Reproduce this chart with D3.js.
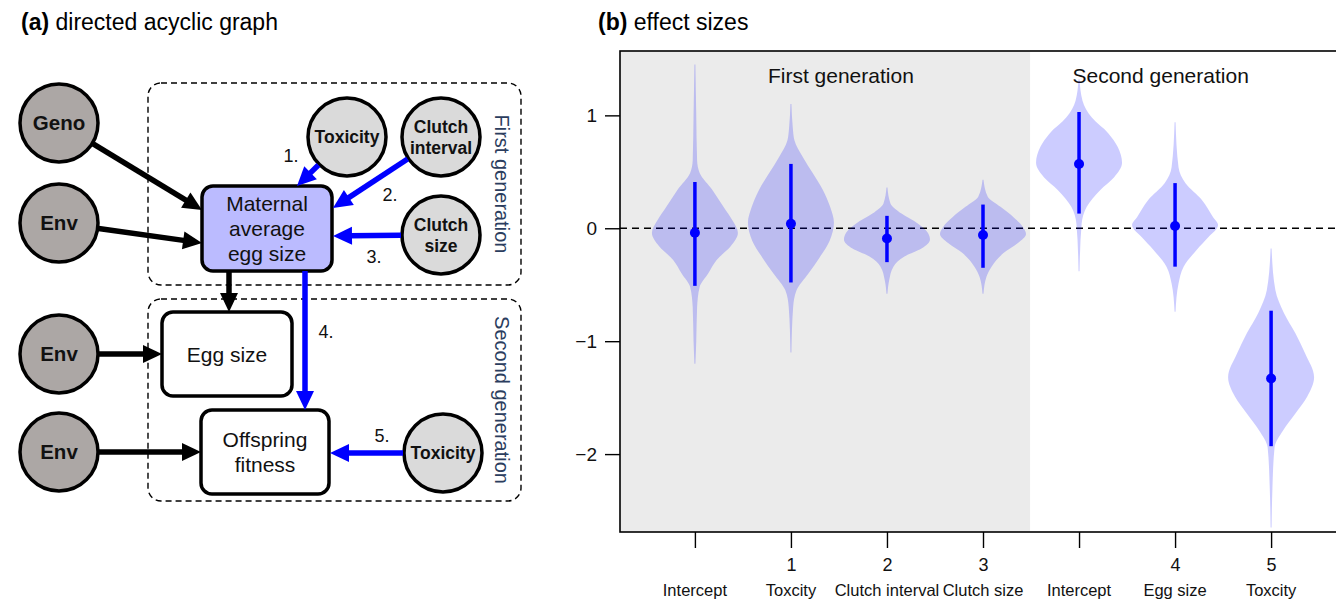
<!DOCTYPE html>
<html>
<head>
<meta charset="utf-8">
<script src="https://cdn.jsdelivr.net/npm/d3@7"></script>
<style>
  body { margin: 0; background: #fff; }
  svg { display: block; font-family: "Liberation Sans", Arial, Helvetica, sans-serif; }
</style>
</head>
<body>
<svg id="chart" width="1336" height="600"></svg>
<script>
// ---- panel (b) data: posterior effect sizes ----
const categories = ["Intercept", "Toxcity", "Clutch interval", "Clutch size", "Intercept", "Egg size", "Toxcity"];
const pathLabels = ["", "1", "2", "3", "", "4", "5"];
const means = [-0.04, 0.04, -0.09, -0.06, 0.57, 0.02, -1.33];
const lower = [-0.51, -0.48, -0.30, -0.35, 0.13, -0.34, -1.93];
const upper = [0.41, 0.57, 0.11, 0.21, 1.03, 0.40, -0.73];
const yTicks = [1, 0, -1, -2];
const generationLabels = ["First generation", "Second generation"];
const generationLabelPos = [1.52, 4.85];

// violin outlines: [effect value, relative density]
const violin1 = [[1.45, 0], [1.0, 0.02], [0.6, 0.04], [0.49, 0.1], [0.34, 0.4], [0.19, 0.66], [0.07, 0.87], [-0.04, 1], [-0.16, 0.83], [-0.28, 0.5], [-0.4, 0.3], [-0.52, 0.1], [-0.7, 0.04], [-1.0, 0.02], [-1.2, 0]];
const violin2 = [[1.1, 0], [0.9, 0.03], [0.78, 0.07], [0.63, 0.27], [0.49, 0.5], [0.34, 0.74], [0.19, 0.91], [0.05, 1], [-0.11, 0.9], [-0.26, 0.66], [-0.4, 0.4], [-0.55, 0.12], [-0.7, 0.04], [-1.1, 0]];
const violin3 = [[0.36, 0], [0.22, 0.07], [0.13, 0.33], [0.04, 0.72], [-0.04, 0.95], [-0.1, 1], [-0.18, 0.8], [-0.25, 0.4], [-0.34, 0.14], [-0.46, 0.04], [-0.58, 0]];
const violin4 = [[0.43, 0], [0.28, 0.1], [0.19, 0.4], [0.1, 0.7], [0.01, 0.93], [-0.05, 1], [-0.13, 0.81], [-0.22, 0.47], [-0.34, 0.19], [-0.43, 0.07], [-0.58, 0]];
const violin5 = [[1.32, 0], [1.13, 0.07], [0.98, 0.29], [0.84, 0.68], [0.72, 0.9], [0.58, 1], [0.45, 0.81], [0.34, 0.49], [0.19, 0.17], [0.04, 0.05], [-0.38, 0]];
const violin6 = [[0.94, 0], [0.54, 0.07], [0.4, 0.23], [0.25, 0.62], [0.1, 0.88], [0.03, 1], [-0.08, 0.77], [-0.19, 0.5], [-0.34, 0.19], [-0.49, 0.07], [-0.74, 0]];
const violin7 = [[-0.18, 0], [-0.55, 0.09], [-0.75, 0.29], [-0.93, 0.56], [-1.11, 0.79], [-1.32, 1], [-1.49, 0.84], [-1.64, 0.56], [-1.79, 0.27], [-1.94, 0.07], [-2.3, 0.02], [-2.65, 0]];
const violins = [violin1, violin2, violin3, violin4, violin5, violin6, violin7];

// ---- panel (a) data: the DAG ----
const dagNodes = [
  { id: "geno", shape: "circle", lines: ["Geno"], fill: "#aca7a5", big: true, cx: 59, cy: 123 },
  { id: "env1", shape: "circle", lines: ["Env"], fill: "#aca7a5", big: true, cx: 59, cy: 223 },
  { id: "env2", shape: "circle", lines: ["Env"], fill: "#aca7a5", big: true, cx: 59, cy: 354 },
  { id: "env3", shape: "circle", lines: ["Env"], fill: "#aca7a5", big: true, cx: 59, cy: 452 },
  { id: "tox1", shape: "circle", lines: ["Toxicity"], fill: "#dadada", cx: 347, cy: 137 },
  { id: "cint", shape: "circle", lines: ["Clutch", "interval"], fill: "#dadada", cx: 441, cy: 137 },
  { id: "csize", shape: "circle", lines: ["Clutch", "size"], fill: "#dadada", cx: 441, cy: 235 },
  { id: "tox2", shape: "circle", lines: ["Toxicity"], fill: "#dadada", cx: 443, cy: 453 },
  { id: "mat", shape: "box", lines: ["Maternal", "average", "egg size"], fill: "#bbbbff", x0: 202, x1: 332, y0: 186, y1: 271 },
  { id: "egg", shape: "box", lines: ["Egg size"], fill: "#ffffff", x0: 162, x1: 292, y0: 312, y1: 396 },
  { id: "off", shape: "box", lines: ["Offspring", "fitness"], fill: "#ffffff", x0: 201, x1: 329, y0: 410, y1: 494 }
];
// edges: source node, arrow tip, optional start point, colour, path label
const dagEdges = [
  { from: "geno", tip: [202, 210], color: "#000" },
  { from: "env1", tip: [202, 243], color: "#000" },
  { from: "env2", tip: [162, 354], color: "#000" },
  { from: "env3", tip: [201, 452], color: "#000" },
  { from: "mat", start: [229, 271], tip: [229, 312], color: "#000" },
  { from: "tox1", tip: [297, 186], color: "#0000ff", label: "1.", lx: 291, ly: 162 },
  { from: "cint", tip: [333, 208], color: "#0000ff", label: "2.", lx: 390, ly: 201 },
  { from: "csize", tip: [333, 236], color: "#0000ff", label: "3.", lx: 374, ly: 263 },
  { from: "mat", start: [305, 271], tip: [305, 410], color: "#0000ff", label: "4.", lx: 326, ly: 338 },
  { from: "tox2", tip: [330, 453], color: "#0000ff", label: "5.", lx: 382, ly: 442 }
];
const genBoxes = [
  { label: "First generation", x0: 148, x1: 521, y0: 83, y1: 285 },
  { label: "Second generation", x0: 148, x1: 521, y0: 299, y1: 501 }
];

const svg = d3.select("#chart");

// panel titles
function title(x, tag, rest) {
  const t = svg.append("text").attr("x", x).attr("y", 30).attr("font-size", 23).attr("fill", "#000");
  t.append("tspan").attr("font-weight", "bold").text(tag);
  t.append("tspan").text(" " + rest);
}
title(21, "(a)", "directed acyclic graph");
title(598, "(b)", "effect sizes");

// ================= panel (a) =================
const dag = svg.append("g");

dag.selectAll("rect.gen")
  .data(genBoxes)
  .enter().append("rect")
  .attr("class", "gen")
  .attr("x", d => d.x0).attr("y", d => d.y0)
  .attr("width", d => d.x1 - d.x0).attr("height", d => d.y1 - d.y0)
  .attr("rx", 13)
  .attr("fill", "none").attr("stroke", "#000").attr("stroke-width", 1.4)
  .attr("stroke-dasharray", "6,4");

dag.selectAll("text.gen")
  .data(genBoxes)
  .enter().append("text")
  .attr("class", "gen")
  .attr("transform", d => "translate(" + (d.x1 - 26) + "," + ((d.y0 + d.y1) / 2) + ") rotate(90)")
  .attr("text-anchor", "middle")
  .attr("font-size", 20)
  .attr("fill", "#2b3d5e")
  .text(d => d.label);

const R = 39;
const nodeById = {};
dagNodes.forEach(n => { nodeById[n.id] = n; });

const nodeG = dag.selectAll("g.node")
  .data(dagNodes)
  .enter().append("g")
  .attr("class", "node");

nodeG.filter(d => d.shape === "circle").append("circle")
  .attr("cx", d => d.cx).attr("cy", d => d.cy).attr("r", R)
  .attr("fill", d => d.fill).attr("stroke", "#000").attr("stroke-width", 3.5);

nodeG.filter(d => d.shape === "box").append("rect")
  .attr("x", d => d.x0).attr("y", d => d.y0)
  .attr("width", d => d.x1 - d.x0).attr("height", d => d.y1 - d.y0)
  .attr("rx", 11)
  .attr("fill", d => d.fill).attr("stroke", "#000").attr("stroke-width", 3.5);

nodeG.each(function (d) {
  const g = d3.select(this);
  const isBox = d.shape === "box";
  const fs = isBox ? 21 : (d.big ? 20.5 : 17.5);
  const lh = isBox ? 25 : 21;
  const cx = isBox ? (d.x0 + d.x1) / 2 : d.cx;
  const cy = isBox ? (d.y0 + d.y1) / 2 : d.cy;
  const n = d.lines.length;
  d.lines.forEach((s, i) => {
    g.append("text")
      .attr("x", cx)
      .attr("y", cy + (i - (n - 1) / 2) * lh + fs * 0.36)
      .attr("text-anchor", "middle")
      .attr("font-size", fs)
      .attr("font-weight", isBox ? "normal" : "bold")
      .attr("fill", "#111")
      .text(s);
  });
});

function drawArrow(sel, x1, y1, x2, y2, color) {
  const dx = x2 - x1, dy = y2 - y1, L = Math.hypot(dx, dy);
  const ux = dx / L, uy = dy / L;
  const hl = 19, hw = 9;
  const bx = x2 - ux * hl, by = y2 - uy * hl;
  sel.append("line")
    .attr("x1", x1).attr("y1", y1)
    .attr("x2", bx + ux * 2).attr("y2", by + uy * 2)
    .attr("stroke", color).attr("stroke-width", 5.5);
  sel.append("path")
    .attr("d", "M" + x2 + "," + y2 +
      "L" + (bx - uy * hw) + "," + (by + ux * hw) +
      "L" + (bx + uy * hw) + "," + (by - ux * hw) + "Z")
    .attr("fill", color);
}

const edgeG = dag.append("g");
dagEdges.forEach(e => {
  const src = nodeById[e.from];
  let start = e.start;
  if (!start) {
    const dx = e.tip[0] - src.cx, dy = e.tip[1] - src.cy, L = Math.hypot(dx, dy);
    start = [src.cx + dx / L * (R + 1), src.cy + dy / L * (R + 1)];
  }
  drawArrow(edgeG, start[0], start[1], e.tip[0], e.tip[1], e.color);
  if (e.label) {
    edgeG.append("text")
      .attr("x", e.lx).attr("y", e.ly)
      .attr("text-anchor", "middle")
      .attr("font-size", 18)
      .attr("fill", "#111")
      .text(e.label);
  }
});

// ================= panel (b) =================
const plot = { left: 620, right: 1346, top: 51, bottom: 532 };

const x = d3.scaleLinear().domain([-0.78, 6.78]).range([plot.left, plot.right]);
const y = d3.scaleLinear().domain([-2.69, 1.57]).range([plot.bottom, plot.top]);
const w = d3.scaleLinear().domain([0, 1]).range([0.5, 43]);

const pb = svg.append("g");

pb.append("rect")
  .attr("x", plot.left).attr("y", plot.top)
  .attr("width", x(3.49) - plot.left).attr("height", plot.bottom - plot.top)
  .attr("fill", "#ebebeb");

pb.selectAll("text.genlab")
  .data(generationLabels)
  .enter().append("text")
  .attr("class", "genlab")
  .attr("x", (d, i) => x(generationLabelPos[i]))
  .attr("y", 83)
  .attr("text-anchor", "middle")
  .attr("font-size", 21)
  .attr("fill", "#111")
  .text(d => d);

pb.append("line")
  .attr("x1", plot.left).attr("x2", plot.right)
  .attr("y1", y(0)).attr("y2", y(0))
  .attr("stroke", "#000").attr("stroke-width", 1.4)
  .attr("stroke-dasharray", "7,5");

const area = d3.area()
  .curve(d3.curveMonotoneY)
  .y(d => y(d[0]));

pb.selectAll("path.violin")
  .data(violins)
  .enter().append("path")
  .attr("class", "violin")
  .attr("d", (v, i) => area.x0(d => x(i) - w(d[1])).x1(d => x(i) + w(d[1]))(v))
  .attr("fill", "#0000ff")
  .attr("fill-opacity", 0.2);

pb.selectAll("line.ci")
  .data(means)
  .enter().append("line")
  .attr("class", "ci")
  .attr("x1", (d, i) => x(i)).attr("x2", (d, i) => x(i))
  .attr("y1", (d, i) => y(upper[i])).attr("y2", (d, i) => y(lower[i]))
  .attr("stroke", "#0000ff").attr("stroke-width", 3.5);

pb.selectAll("circle.mean")
  .data(means)
  .enter().append("circle")
  .attr("class", "mean")
  .attr("cx", (d, i) => x(i)).attr("cy", d => y(d))
  .attr("r", 5)
  .attr("fill", "#0000ff");

// frame
pb.append("rect")
  .attr("x", plot.left).attr("y", plot.top)
  .attr("width", plot.right - plot.left).attr("height", plot.bottom - plot.top)
  .attr("fill", "none").attr("stroke", "#000").attr("stroke-width", 1.6);

// y axis
const yAxis = d3.axisLeft(y)
  .tickValues(yTicks)
  .tickSize(15)
  .tickPadding(8)
  .tickFormat(d => d < 0 ? "\u2212" + Math.abs(d) : String(d));
pb.append("g")
  .attr("transform", "translate(" + plot.left + ",0)")
  .call(yAxis)
  .call(g => g.select(".domain").remove())
  .call(g => g.selectAll("line").attr("stroke-width", 1.4))
  .call(g => g.selectAll("text").attr("font-size", 19).attr("fill", "#111")
    .attr("font-family", "'Liberation Sans', Arial, sans-serif"));

// x axis: ticks with path numbers, names below
const xAxis = d3.axisBottom(x)
  .tickValues(d3.range(categories.length))
  .tickSize(16)
  .tickPadding(10)
  .tickFormat(i => pathLabels[i]);
pb.append("g")
  .attr("transform", "translate(0," + plot.bottom + ")")
  .call(xAxis)
  .call(g => g.select(".domain").remove())
  .call(g => g.selectAll("line").attr("stroke-width", 1.4))
  .call(g => g.selectAll("text").attr("font-size", 18).attr("fill", "#111")
    .attr("font-family", "'Liberation Sans', Arial, sans-serif"));

pb.selectAll("text.cat")
  .data(categories)
  .enter().append("text")
  .attr("class", "cat")
  .attr("x", (d, i) => x(i))
  .attr("y", 596)
  .attr("text-anchor", "middle")
  .attr("font-size", 16.5)
  .attr("fill", "#111")
  .text(d => d);
</script>
</body>
</html>
